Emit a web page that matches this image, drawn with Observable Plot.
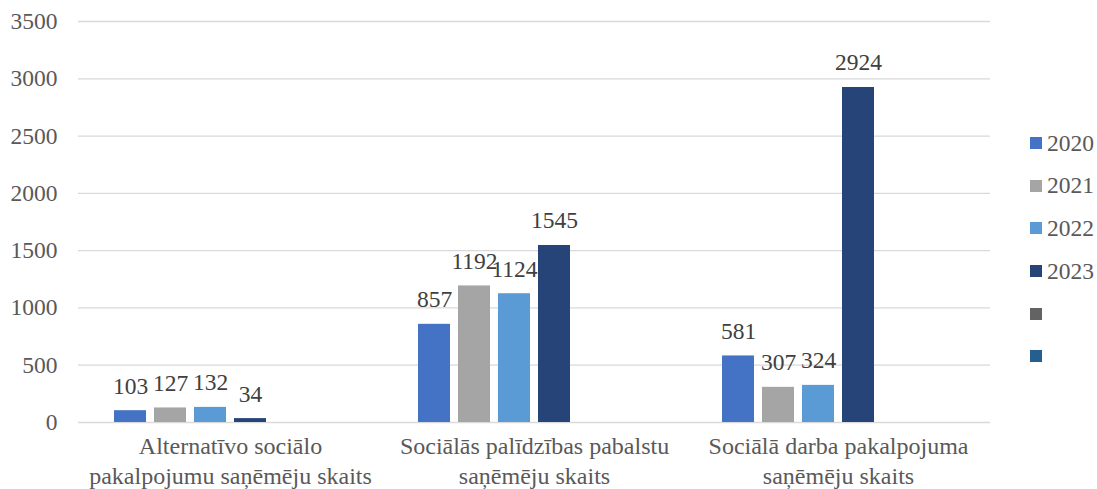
<!DOCTYPE html>
<html><head><meta charset="utf-8">
<script src="https://cdn.jsdelivr.net/npm/d3@7"></script>
<script src="https://cdn.jsdelivr.net/npm/@observablehq/plot@0.6"></script>
<style>
body{margin:0;background:#fff;font-family:"Liberation Serif",serif;}
#wrap{position:relative;width:1097px;height:489px;}
#legend{position:absolute;left:1030px;top:122px;font-family:"Liberation Serif",serif;}
.item{display:flex;align-items:center;height:42.6px;font-size:23.5px;color:#595959;}
.sw{width:12px;height:12px;margin-right:5px;}
svg text{font-family:"Liberation Serif",serif;}
</style></head><body><div id="wrap"></div>
<script>
const categories = [
  "Alternatīvo sociālo\npakalpojumu saņēmēju skaits",
  "Sociālās palīdzības pabalstu\nsaņēmēju skaits",
  "Sociālā darba pakalpojuma\nsaņēmēju skaits"
];
const series = ["2020", "2021", "2022", "2023", "s5", "s6"];
const seriesLabels = ["2020", "2021", "2022", "2023", "", ""];
const colors = ["#4472C4", "#A5A5A5", "#5B9BD5", "#264478", "#636363", "#255E91"];
const v2020 = [103, 857, 581];
const v2021 = [127, 1192, 307];
const v2022 = [132, 1124, 324];
const v2023 = [34, 1545, 2924];
const yTicks = [0, 500, 1000, 1500, 2000, 2500, 3000, 3500];

const valuesBySeries = [v2020, v2021, v2022, v2023];
const data = [];
valuesBySeries.forEach((vals, si) => {
  vals.forEach((v, ci) => data.push({category: categories[ci], series: series[si], value: v}));
});
const FONT = '"Liberation Serif", serif';

const chart = Plot.plot({
  width: 1097,
  height: 489,
  marginLeft: 78,
  marginRight: 107,
  marginTop: 21,
  marginBottom: 67,
  style: {fontFamily: FONT, fontSize: "23.5px", color: "#595959", background: "#fff"},
  fx: {domain: categories, padding: 0, label: null, axis: null},
  x: {domain: series, paddingInner: 0.2, paddingOuter: 0.9, axis: null},
  y: {domain: [0, 3500], axis: null},
  color: {domain: series, range: colors},
  marks: [
    Plot.gridY(yTicks, {stroke: "#d9d9d9", strokeOpacity: 1, strokeWidth: 1.3}),
    Plot.axisY(yTicks, {tickSize: 0, tickPadding: 21, label: null, fontSize: 23.5, fontFamily: FONT, fill: "#595959", tickFormat: d => String(d)}),
    Plot.axisFx({anchor: "bottom", tickSize: 0, tickPadding: 11, label: null, fontSize: 24, fontFamily: FONT, fill: "#595959", lineHeight: 1.22}),
    Plot.barY(data, {fx: "category", x: "series", y: "value", fill: "series"}),
    Plot.text(data, {fx: "category", x: "series", y: "value", text: d => String(d.value), dy: -17, lineAnchor: "bottom", fill: "#404040", fontSize: 23.5, fontFamily: FONT})
  ]
});
const wrap = document.getElementById("wrap");
wrap.appendChild(chart);
const legend = document.createElement("div");
legend.id = "legend";
series.forEach((s, i) => {
  const it = document.createElement("div");
  it.className = "item";
  const sw = document.createElement("span");
  sw.className = "sw";
  sw.style.background = colors[i];
  const lb = document.createElement("span");
  lb.textContent = seriesLabels[i];
  it.appendChild(sw); it.appendChild(lb);
  legend.appendChild(it);
});
wrap.appendChild(legend);
</script></body></html>
